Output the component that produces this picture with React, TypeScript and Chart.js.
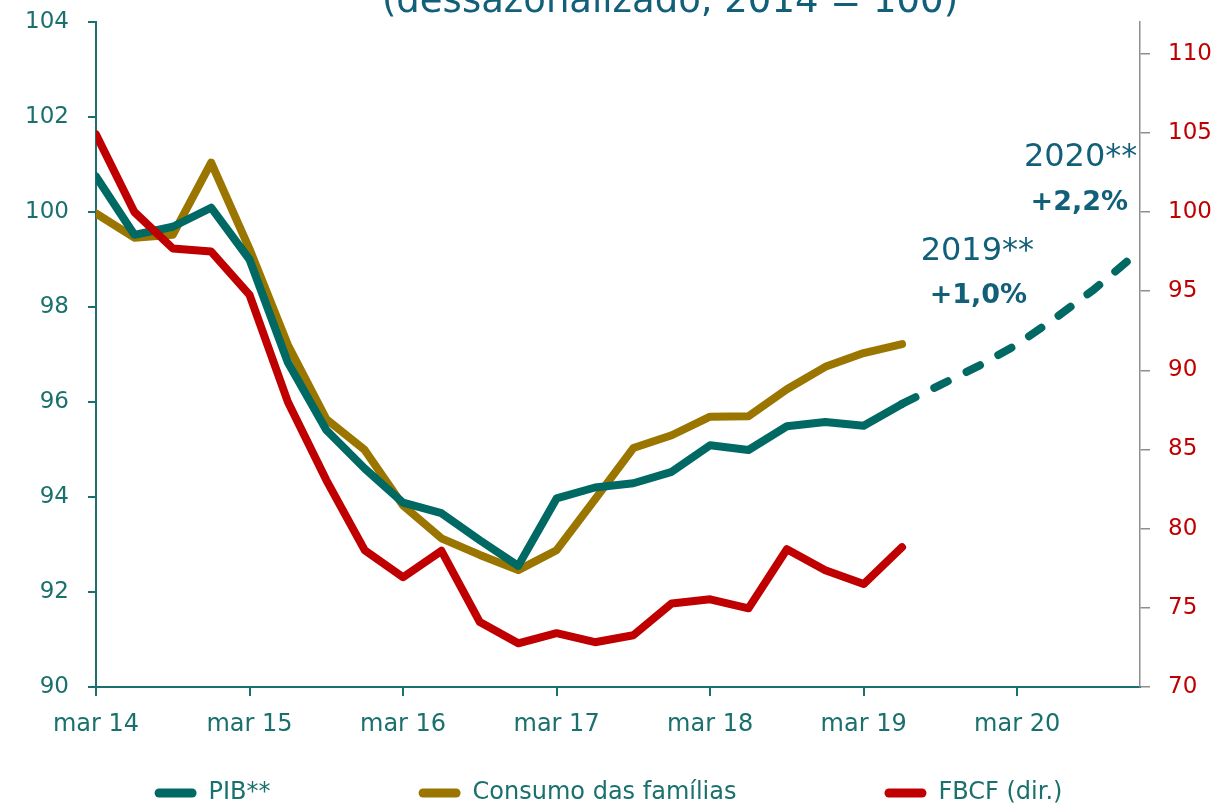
import React, { useEffect, useRef } from 'react';
import { Chart, registerables } from 'chart.js';

Chart.register(...registerables);

// ---- data ----
const quarters = [
  'mar 14', 'jun 14', 'set 14', 'dez 14',
  'mar 15', 'jun 15', 'set 15', 'dez 15',
  'mar 16', 'jun 16', 'set 16', 'dez 16',
  'mar 17', 'jun 17', 'set 17', 'dez 17',
  'mar 18', 'jun 18', 'set 18', 'dez 18',
  'mar 19', 'jun 19', 'set 19', 'dez 19',
  'mar 20', 'jun 20', 'set 20', 'dez 20',
];

// PIB** (index, 2014 = 100); values from 'jun 19' onward are projections
const pib = [
  100.75, 99.52, 99.69, 100.09,
  99.0, 96.83, 95.41, 94.6,
  93.88, 93.66, 93.09, 92.55,
  93.97, 94.2, 94.29, 94.53,
  95.09, 94.99, 95.49, 95.58,
  95.5, 95.96, 96.36, 96.76,
  97.21, 97.77, 98.37, 99.05,
];
const forecastFrom = 21; // index of 'jun 19'

const consumo = [
  99.97, 99.46, 99.52, 101.04,
  99.22, 97.2, 95.64, 94.99,
  93.82, 93.13, 92.78, 92.46,
  92.88, 93.95, 95.03, 95.3,
  95.69, 95.7, 96.27, 96.74,
  97.03, 97.22,
];

// FBCF (right axis)
const fbcf = [
  104.9, 100.0, 97.7, 97.5,
  94.76, 88.0, 83.07, 78.64,
  76.93, 78.6, 74.1, 72.76,
  73.4, 72.83, 73.27, 75.28,
  75.54, 74.97, 78.7, 77.38,
  76.5, 78.83,
];

const seriesNames = ['PIB**', 'Consumo das famílias', 'FBCF (dir.)'];
const titleText = '(dessazonalizado, 2014 = 100)';
const annotations = [
  { text: '2019**', x: 24.44, y: 99.17, bold: false, size: 32 },
  { text: '+1,0%', x: 24.26, y: 98.24, bold: true, size: 27 },
  { text: '2020**', x: 27.13, y: 101.14, bold: false, size: 32 },
  { text: '+2,2%', x: 26.89, y: 100.2, bold: true, size: 27 },
];

// ---- styles ----
const FONT = '"DejaVu Sans", sans-serif';
const TEAL = '#006963';
const GOLD = '#9A7600';
const RED = '#C00000';
const AXIS_TEXT = '#1A706D';
const TITLE_COLOR = '#125F7A';
const GRAY = '#8E8E8E';
const LEGEND_PADDING = 148;
const LEGEND_TEXT_CENTER = 793;

const textPlugin = {
  id: 'texts',
  afterDraw(chart: any) {
    const { ctx, scales } = chart;
    ctx.save();
    ctx.fillStyle = TITLE_COLOR;
    ctx.textAlign = 'center';
    ctx.textBaseline = 'alphabetic';
    ctx.font = `37px ${FONT}`;
    ctx.fillText(titleText, 670, 12);
    annotations.forEach((a) => {
      const x = scales.x.getPixelForValue(a.x);
      const y = scales.y.getPixelForValue(a.y);
      ctx.font = `${a.bold ? 'bold ' : ''}${a.size}px ${FONT}`;
      ctx.textAlign = 'right';
      ctx.textBaseline = 'middle';
      ctx.fillText(a.text, x, y);
    });
    ctx.restore();
  },
};

const legendShift = {
  id: 'legendShift',
  afterLayout(chart: any) {
    const lg = chart.legend;
    if (!lg) return;
    const h = lg.height;
    const itemH = 24;
    lg.top = LEGEND_TEXT_CENTER - itemH / 2 - LEGEND_PADDING;
    lg.bottom = lg.top + h;
  },
};

export default function App() {
  const ref = useRef<HTMLCanvasElement | null>(null);

  useEffect(() => {
    if (!ref.current) return;
    const toPts = (arr: number[]) => arr.map((v, i) => ({ x: i, y: v }));
    const common = {
      borderWidth: 8,
      pointRadius: 0,
      pointHoverRadius: 0,
      tension: 0,
      fill: false,
      borderJoinStyle: 'round' as const,
      borderCapStyle: 'round' as const,
    };
    const fitVertical = (w: number) => (s: any) => {
      s.width = w;
      s.paddingTop = 12;
      s.paddingBottom = 12;
    };
    const chart = new Chart(ref.current, {
      type: 'line',
      data: {
        datasets: [
          {
            ...common,
            label: seriesNames[0],
            data: toPts(pib),
            borderColor: TEAL,
            backgroundColor: TEAL,
            yAxisID: 'y',
            order: 1,
            segment: {
              borderDash: (c: any) => (c.p0DataIndex >= forecastFrom ? [15, 21] : undefined),
            },
          },
          {
            ...common,
            label: seriesNames[1],
            data: toPts(consumo),
            borderColor: GOLD,
            backgroundColor: GOLD,
            yAxisID: 'y',
            order: 2,
          },
          {
            ...common,
            label: seriesNames[2],
            data: toPts(fbcf),
            borderColor: RED,
            backgroundColor: RED,
            yAxisID: 'y1',
            order: 0,
          },
        ],
      },
      options: {
        animation: false,
        responsive: false,
        devicePixelRatio: 1,
        layout: { padding: { top: 22, left: 0, right: 0, bottom: 0 } },
        plugins: {
          tooltip: { enabled: false },
          title: { display: false },
          legend: {
            display: true,
            position: 'bottom',
            labels: {
              color: AXIS_TEXT,
              font: { family: FONT, size: 24 },
              boxWidth: 42,
              boxHeight: 9,
              useBorderRadius: true,
              borderRadius: 4.5,
              padding: LEGEND_PADDING,
              sort: (a: any, b: any) => a.datasetIndex - b.datasetIndex,
              generateLabels: (ch: any) =>
                Chart.defaults.plugins.legend.labels
                  .generateLabels(ch)
                  .map((it: any) => ({ ...it, lineWidth: 0, lineDash: [], fontColor: AXIS_TEXT })),
            },
          },
        },
        scales: {
          x: {
            type: 'linear',
            min: 0,
            max: 27.2,
            afterFit: (s: any) => {
              s.height = 60;
            },
            ticks: {
              stepSize: 4,
              includeBounds: false,
              autoSkip: false,
              maxRotation: 0,
              color: AXIS_TEXT,
              font: { family: FONT, size: 24 },
              padding: 14,
              callback: (v: any) => quarters[Math.round(Number(v))] ?? '',
            },
            grid: { drawOnChartArea: false, color: AXIS_TEXT, lineWidth: 2, tickLength: 9 },
            border: { display: true, color: AXIS_TEXT, width: 2 },
          },
          y: {
            type: 'linear',
            position: 'left',
            min: 90,
            max: 104,
            afterFit: fitVertical(96),
            ticks: {
              stepSize: 2,
              color: AXIS_TEXT,
              font: { family: FONT, size: 23 },
              padding: 19,
            },
            grid: { drawOnChartArea: false, color: AXIS_TEXT, lineWidth: 2, tickLength: 8 },
            border: { display: true, color: AXIS_TEXT, width: 2 },
          },
          y1: {
            type: 'linear',
            position: 'right',
            min: 70,
            max: 112,
            afterFit: fitVertical(77),
            ticks: {
              stepSize: 5,
              includeBounds: false,
              color: RED,
              font: { family: FONT, size: 23 },
              padding: 18,
            },
            grid: { drawOnChartArea: false, color: GRAY, lineWidth: 1.5, tickLength: 10 },
            border: { display: true, color: GRAY, width: 1.5 },
          },
        },
      },
      plugins: [textPlugin, legendShift],
    } as any);
    return () => chart.destroy();
  }, []);

  return (
    <div
      style={{
        position: 'absolute',
        left: 0,
        top: 0,
        width: 1217,
        height: 805,
        overflow: 'hidden',
        background: '#ffffff',
      }}
    >
      <canvas ref={ref} width={1217} height={929} style={{ display: 'block', width: 1217, height: 929 }} />
    </div>
  );
}
